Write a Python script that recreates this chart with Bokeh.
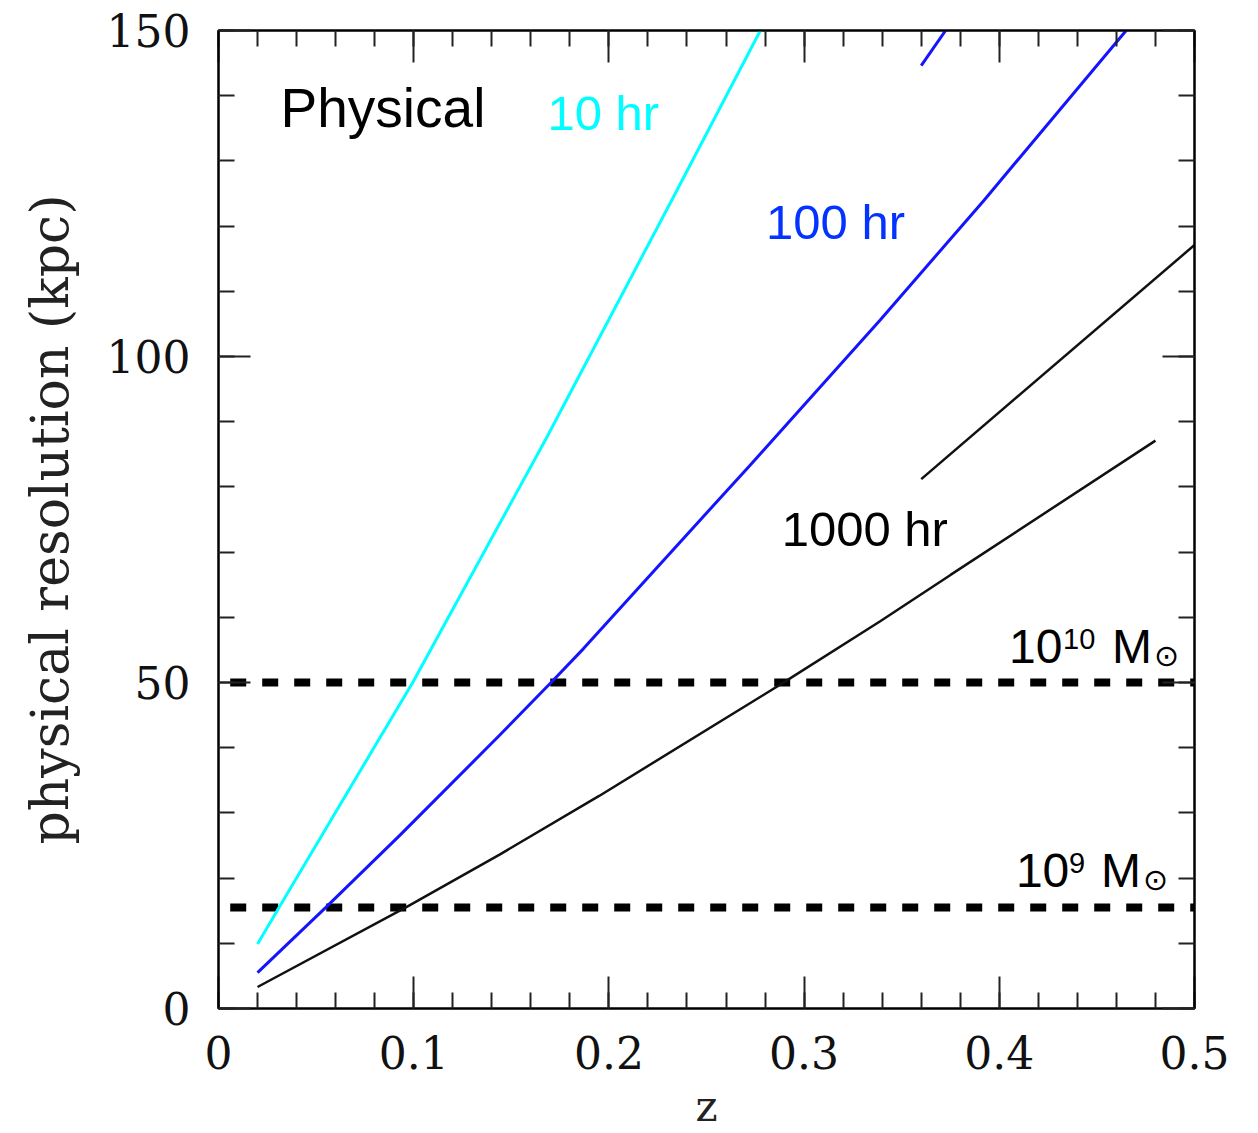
from bokeh.plotting import figure
from bokeh.models import (Range1d, LinearAxis, SingleIntervalTicker, Label,
                          CustomJSTickFormatter)
from bokeh.embed import file_html
from bokeh.resources import INLINE

# ---- data ----
z_10hr = [0.020, 0.031, 0.0995, 0.168, 0.234, 0.2776]
r_10hr = [9.9, 15.5, 50.0, 87.5, 125.0, 150.0]

z_100hr = [0.020, 0.055, 0.093, 0.144, 0.171, 0.187, 0.254, 0.272, 0.339, 0.392, 0.465]
r_100hr = [5.5, 15.5, 26.6, 41.9, 50.2, 55.2, 77.3, 83.2, 105.6, 123.9, 150.0]

z_100hr_b = [0.360, 0.3725]
r_100hr_b = [144.6, 150.0]

z_1000hr = [0.020, 0.096, 0.144, 0.195, 0.276, 0.290, 0.339, 0.375, 0.480]
r_1000hr = [3.3, 15.5, 23.6, 32.6, 47.5, 50.1, 59.4, 66.5, 87.1]

z_1000hr_b = [0.360, 0.500]
r_1000hr_b = [81.2, 117.1]

mass_res = [50.0, 15.5]          # 1e10 and 1e9 Msun resolution levels
mass_z = [0.006, 0.5]

x_ticks_interval = 0.1
y_ticks_interval = 50

SERIF = "DejaVu Serif"
SANS = "Liberation Sans"

p = figure(frame_width=976, frame_height=978,
           min_border_left=218, min_border_top=30,
           min_border_right=64, min_border_bottom=125,
           x_range=Range1d(0, 0.5), y_range=Range1d(0, 150),
           output_backend="svg", toolbar_location=None,
           background_fill_color="white", border_fill_color="white")
p.xgrid.visible = False
p.ygrid.visible = False
p.outline_line_color = "black"
p.outline_line_width = 2

fmt = CustomJSTickFormatter(code="return tick.toFixed(1).replace(/\\.0$/, '');")
blank = CustomJSTickFormatter(code="return '';")

def style_axis(ax, ticker, labels=True):
    ax.ticker = ticker
    ax.axis_line_color = "black"
    ax.axis_line_width = 2
    ax.major_tick_in = 32
    ax.major_tick_out = 0
    ax.minor_tick_in = 16
    ax.minor_tick_out = 0
    ax.major_tick_line_width = 2
    ax.minor_tick_line_width = 2
    ax.major_tick_line_color = "#222222"
    ax.minor_tick_line_color = "#222222"
    if labels:
        ax.formatter = fmt
        ax.major_label_text_font = SERIF
        ax.major_label_text_font_size = "44px"
        ax.major_label_text_color = "#111111"
        ax.axis_label_text_font = SERIF
        ax.axis_label_text_font_style = "normal"
        ax.axis_label_text_color = "#222222"
    else:
        ax.formatter = blank
        ax.major_label_standoff = 0
        ax.axis_label = None

xt = SingleIntervalTicker(interval=x_ticks_interval, num_minor_ticks=5)
yt = SingleIntervalTicker(interval=y_ticks_interval, num_minor_ticks=5)

style_axis(p.xaxis[0], xt)
p.xaxis[0].axis_label = "z"
p.xaxis[0].axis_label_text_font_size = "42px"
p.xaxis[0].major_label_standoff = 27
p.xaxis[0].axis_label_standoff = 10

style_axis(p.yaxis[0], yt)
p.yaxis[0].axis_label = "physical resolution (kpc)"
p.yaxis[0].axis_label_text_font_size = "52px"
p.yaxis[0].major_label_standoff = 28
p.yaxis[0].axis_label_standoff = 24

top_ax = LinearAxis()
style_axis(top_ax, SingleIntervalTicker(interval=x_ticks_interval, num_minor_ticks=5), labels=False)
p.add_layout(top_ax, "above")
right_ax = LinearAxis()
style_axis(right_ax, SingleIntervalTicker(interval=y_ticks_interval, num_minor_ticks=5), labels=False)
p.add_layout(right_ax, "right")

# ---- dashed mass-resolution lines ----
for lvl in mass_res:
    p.line(mass_z, [lvl, lvl], line_color="black", line_width=8, line_dash="16 16")

# ---- curves ----
p.line(z_10hr, r_10hr, line_color="#00ffff", line_width=3)
p.line(z_100hr, r_100hr, line_color="#1414ff", line_width=3)
p.line(z_100hr_b, r_100hr_b, line_color="#1414ff", line_width=3)
p.line(z_1000hr, r_1000hr, line_color="#111111", line_width=2.5)
p.line(z_1000hr_b, r_1000hr_b, line_color="#111111", line_width=2.5)

# ---- annotations ----
def lab(text, x, y, size, color="black", font=SANS, xo=0, yo=0, align="left"):
    fs = float(size.replace("px", ""))
    p.add_layout(Label(x=x, y=y, text=text, x_offset=xo, y_offset=yo + 0.37 * fs,
                       text_font=font, text_font_size=size, text_color=color,
                       text_baseline="alphabetic", text_align=align))

lab("Physical", 0.0318, 135.0, "55px")
lab("10 hr", 0.1685, 134.6, "49px", color="#00fdff")
lab("100 hr", 0.2805, 117.9, "49px", color="#0433ff")
lab("1000 hr", 0.2885, 70.8, "49px")

# 10^10 Msun
lab("10", 0.4050, 52.8, "48px")
lab("10", 0.4050, 52.8, "29px", xo=54, yo=15)
lab("M", 0.4050, 52.8, "48px", xo=103)
lab("\u2299", 0.4050, 52.8, "30px", font="DejaVu Sans", xo=145, yo=-2)

# 10^9 Msun
lab("10", 0.4085, 18.4, "48px")
lab("9", 0.4085, 18.4, "29px", xo=53, yo=15)
lab("M", 0.4085, 18.4, "48px", xo=85)
lab("\u2299", 0.4085, 18.4, "30px", font="DejaVu Sans", xo=127, yo=-2)

html = file_html(p, INLINE)
html = html.replace("<head>", "<head><style>html,body{margin:0;padding:0;overflow:hidden;}</style>", 1)
open("out.html", "w").write(html)
